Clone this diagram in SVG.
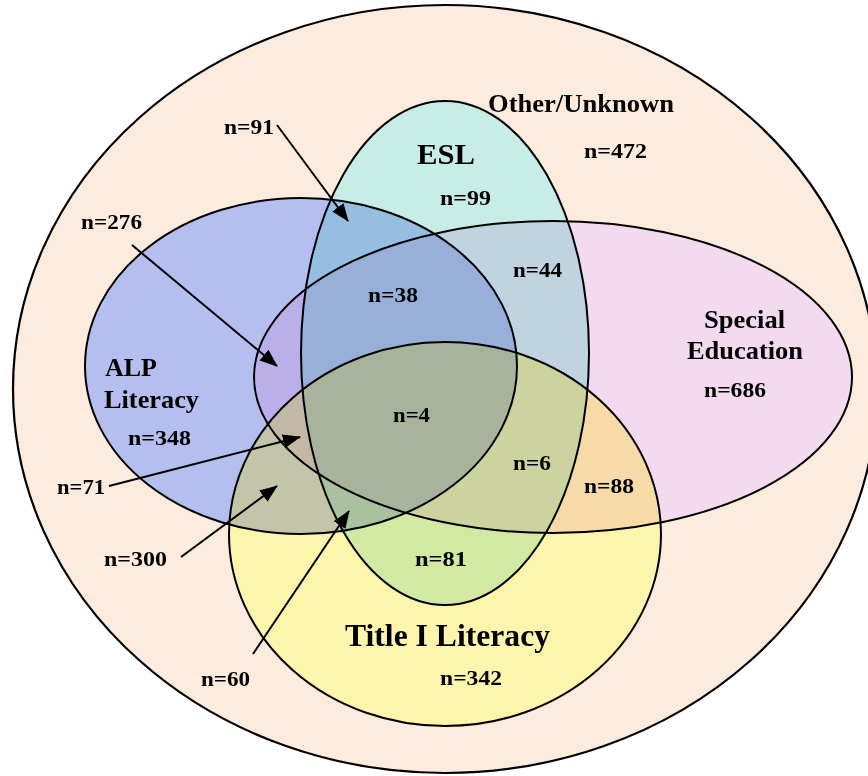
<svg xmlns="http://www.w3.org/2000/svg" xmlns:xlink="http://www.w3.org/1999/xlink" width="868" height="776" viewBox="0 0 868 776">
<style>
.outline{fill:none;stroke:#000;stroke-width:2}
.mul{mix-blend-mode:multiply}
.lbl{font-family:"Liberation Serif","Times New Roman",serif;font-weight:bold;fill:#000}
.n{font-size:21px}
.conn line{stroke:#000;stroke-width:2}
</style>
<defs>
<marker id="ah" markerUnits="userSpaceOnUse" markerWidth="18" markerHeight="14" refX="17" refY="7" orient="auto">
<path d="M0,0 L18,7 L0,14 Z" fill="#000"/>
</marker>
<ellipse id="e-alp" cx="301" cy="366" rx="216" ry="168"/>
<ellipse id="e-esl" cx="445" cy="353" rx="144" ry="252"/>
<ellipse id="e-sped" cx="553" cy="377" rx="299" ry="156"/>
<ellipse id="e-title" cx="445" cy="534" rx="216" ry="192"/>
</defs>
<rect width="868" height="776" fill="#fff"/>
<g id="other">
<ellipse cx="445" cy="389" rx="432" ry="384" fill="#FDECDD" stroke="#000" stroke-width="2.2"/>
<text class="lbl" x="488" y="112" font-size="25" textLength="186" lengthAdjust="spacingAndGlyphs">Other/Unknown</text>
<text class="lbl n" x="584" y="158" textLength="63" lengthAdjust="spacingAndGlyphs">n=472</text>
</g>
<g id="fills-alpha" fill-opacity="0.5">
<use xlink:href="#e-alp" fill="#6B90FF"/>
<use xlink:href="#e-sped" fill="#EBC8FF"/>
<use xlink:href="#e-esl" fill="#93ECEF"/>
<use xlink:href="#e-title" fill="#FFFE7B"/>
</g>
<g id="fills-multiply" opacity="0.6" style="isolation:isolate">
<use class="mul" xlink:href="#e-alp" fill="#B4BEF0"/>
<use class="mul" xlink:href="#e-sped" fill="#F4DAF0"/>
<use class="mul" xlink:href="#e-esl" fill="#C8ECE6"/>
<use class="mul" xlink:href="#e-title" fill="#FFF5AC"/>
</g>
<g id="alp">
<use class="outline" xlink:href="#e-alp"/>
<text class="lbl" x="105" y="376" font-size="26" textLength="52" lengthAdjust="spacingAndGlyphs">ALP</text>
<text class="lbl" x="104" y="408" font-size="26" textLength="95" lengthAdjust="spacingAndGlyphs">Literacy</text>
<text class="lbl n" x="128" y="445" textLength="63" lengthAdjust="spacingAndGlyphs">n=348</text>
</g>
<g id="esl">
<use class="outline" xlink:href="#e-esl"/>
<text class="lbl" x="417" y="164" font-size="29" textLength="58" lengthAdjust="spacingAndGlyphs">ESL</text>
<text class="lbl n" x="440" y="205" textLength="51" lengthAdjust="spacingAndGlyphs">n=99</text>
</g>
<g id="sped">
<use class="outline" xlink:href="#e-sped"/>
<text class="lbl" x="704" y="328" font-size="26" textLength="81" lengthAdjust="spacingAndGlyphs">Special</text>
<text class="lbl" x="687" y="359" font-size="26" textLength="116" lengthAdjust="spacingAndGlyphs">Education</text>
<text class="lbl n" x="704" y="397" textLength="62" lengthAdjust="spacingAndGlyphs">n=686</text>
</g>
<g id="title">
<use class="outline" xlink:href="#e-title"/>
<text class="lbl" x="345" y="646" font-size="32" textLength="205" lengthAdjust="spacingAndGlyphs">Title I Literacy</text>
<text class="lbl n" x="440" y="685" textLength="62" lengthAdjust="spacingAndGlyphs">n=342</text>
</g>
<g id="labels">
<text class="lbl n" x="224" y="134" textLength="50" lengthAdjust="spacingAndGlyphs">n=91</text>
<text class="lbl n" x="81" y="229" textLength="61" lengthAdjust="spacingAndGlyphs">n=276</text>
<text class="lbl n" x="513" y="277" textLength="49" lengthAdjust="spacingAndGlyphs">n=44</text>
<text class="lbl n" x="368" y="302" textLength="50" lengthAdjust="spacingAndGlyphs">n=38</text>
<text class="lbl n" x="393" y="422" textLength="37" lengthAdjust="spacingAndGlyphs">n=4</text>
<text class="lbl n" x="513" y="470" textLength="38" lengthAdjust="spacingAndGlyphs">n=6</text>
<text class="lbl n" x="584" y="493" textLength="50" lengthAdjust="spacingAndGlyphs">n=88</text>
<text class="lbl n" x="57" y="494" textLength="48" lengthAdjust="spacingAndGlyphs">n=71</text>
<text class="lbl n" x="104" y="566" textLength="63" lengthAdjust="spacingAndGlyphs">n=300</text>
<text class="lbl n" x="415" y="566" textLength="52" lengthAdjust="spacingAndGlyphs">n=81</text>
<text class="lbl n" x="201" y="686" textLength="49" lengthAdjust="spacingAndGlyphs">n=60</text>
</g>
<g id="connectors" class="conn">
<line x1="277" y1="125" x2="348" y2="221" marker-end="url(#ah)"/>
<line x1="132" y1="245" x2="277" y2="366" marker-end="url(#ah)"/>
<line x1="109" y1="486" x2="300" y2="437" marker-end="url(#ah)"/>
<line x1="181" y1="557" x2="277" y2="486" marker-end="url(#ah)"/>
<line x1="253" y1="654" x2="349" y2="511" marker-end="url(#ah)"/>
</g>
</svg>
